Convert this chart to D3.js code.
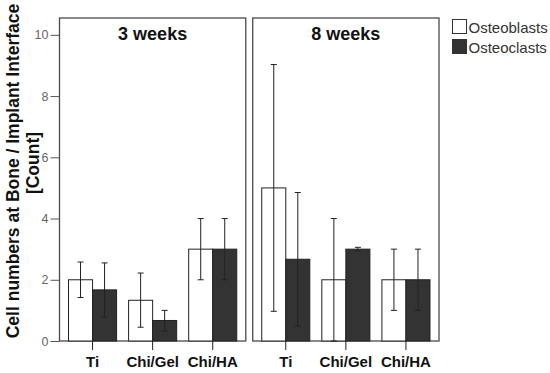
<!DOCTYPE html>
<html>
<head>
    <meta charset="utf-8">
    <title>Cell numbers at bone / implant interface</title>
    <script src="https://d3js.org/d3.v7.min.js"></script>
    <style>
        body { margin: 0; background: #fff; }
        text { font-family: "Liberation Sans", Arial, sans-serif; }
        .frame { fill: none; stroke: #4a4a4a; stroke-width: 1.3px; }
        .err { stroke: #222; stroke-width: 1px; }
    </style>
</head>
<body>
<script type="text/javascript">
    // data
    let panels = ["3 weeks", "8 weeks"];
    let categories = ["Ti", "Chi/Gel", "Chi/HA"];
    let series = ["Osteoblasts", "Osteoclasts"];
    let yTicks = [0, 2, 4, 6, 8, 10];

    // mean values, [panel][category]
    let osteoblasts = [[2.0, 1.33, 3.0], [5.0, 2.0, 2.0]];
    let osteoclasts = [[1.67, 0.67, 3.0], [2.67, 3.0, 2.0]];
    // error bar low / high
    let osteoblastsLow  = [[1.42, 0.45, 2.0], [0.97, 0.0, 1.0]];
    let osteoblastsHigh = [[2.58, 2.22, 4.0], [9.03, 4.0, 3.0]];
    let osteoclastsLow  = [[0.79, 0.33, 2.0], [0.49, 2.95, 1.0]];
    let osteoclastsHigh = [[2.55, 1.0, 4.0], [4.85, 3.06, 3.0]];

    let rows = [];
    panels.forEach((p, pi) => {
        categories.forEach((c, ci) => {
            rows.push({panel: p, cat: c, series: series[0], value: osteoblasts[pi][ci],
                       lo: osteoblastsLow[pi][ci], hi: osteoblastsHigh[pi][ci]});
            rows.push({panel: p, cat: c, series: series[1], value: osteoclasts[pi][ci],
                       lo: osteoclastsLow[pi][ci], hi: osteoclastsHigh[pi][ci]});
        });
    });

    let width = 550, height = 373;
    let svg = d3.select("body").append("svg")
        .attr("width", width)
        .attr("height", height);

    let y = d3.scaleLinear().domain([0, 10.55]).range([341, 18]);

    let xPanel = d3.scaleBand().domain(panels).range([59.5, 439]).paddingInner(0.036);
    let xCat = d3.scaleBand().domain(categories).range([0, xPanel.bandwidth()])
        .paddingInner(0.2).paddingOuter(0.15);
    let xSer = d3.scaleBand().domain(series).range([0, xCat.bandwidth()]);
    let colour = d3.scaleOrdinal().domain(series).range(["#ffffff", "#333333"]);

    // y axis
    let yAxis = svg.append("g")
        .attr("transform", "translate(59.5,0)")
        .call(d3.axisLeft(y).tickValues(yTicks).tickSize(9).tickPadding(2).tickFormat(d3.format("d")));
    yAxis.select(".domain").remove();
    yAxis.selectAll(".tick line").attr("stroke", "#555");
    yAxis.selectAll(".tick text").attr("fill", "#666").style("font-size", "12.5px");

    let g = svg.selectAll("g.panel")
        .data(panels)
        .join("g")
        .attr("class", "panel")
        .attr("transform", d => `translate(${xPanel(d)},0)`);

    g.append("rect")
        .attr("class", "frame")
        .attr("x", 0)
        .attr("y", y.range()[1])
        .attr("width", xPanel.bandwidth())
        .attr("height", y(0) - y.range()[1]);

    g.append("text")
        .attr("x", xPanel.bandwidth() / 2)
        .attr("y", 40)
        .attr("text-anchor", "middle")
        .style("font-size", "18px")
        .style("font-weight", "bold")
        .attr("fill", "#111")
        .text(d => d);

    // bars
    g.selectAll("rect.bar")
        .data(p => rows.filter(r => r.panel === p))
        .join("rect")
        .attr("class", "bar")
        .attr("x", d => xCat(d.cat) + xSer(d.series))
        .attr("y", d => y(d.value))
        .attr("width", xSer.bandwidth())
        .attr("height", d => y(0) - y(d.value))
        .attr("fill", d => colour(d.series))
        .attr("stroke", "#222")
        .attr("stroke-width", 1);

    // error bars
    let eb = g.selectAll("g.eb")
        .data(p => rows.filter(r => r.panel === p))
        .join("g")
        .attr("class", "eb")
        .attr("transform", d => `translate(${xCat(d.cat) + xSer(d.series) + xSer.bandwidth() / 2},0)`);
    eb.append("line").attr("class", "err")
        .attr("x1", 0).attr("x2", 0)
        .attr("y1", d => y(d.lo)).attr("y2", d => y(d.hi));
    eb.append("line").attr("class", "err")
        .attr("x1", -3).attr("x2", 3)
        .attr("y1", d => y(d.lo)).attr("y2", d => y(d.lo));
    eb.append("line").attr("class", "err")
        .attr("x1", -3).attr("x2", 3)
        .attr("y1", d => y(d.hi)).attr("y2", d => y(d.hi));

    // x axis per panel
    g.each(function () {
        let ax = d3.select(this).append("g")
            .attr("transform", `translate(0,${y(0)})`)
            .call(d3.axisBottom(xCat).tickSize(9).tickPadding(6));
        ax.select(".domain").remove();
        ax.selectAll(".tick line").attr("stroke", "#222");
        ax.selectAll(".tick text")
            .attr("fill", "#111")
            .style("font-size", "15px")
            .style("font-weight", "bold");
    });

    // y label
    let yl = svg.append("text")
        .attr("transform", "translate(18.5,171) rotate(-90)")
        .attr("text-anchor", "middle")
        .style("font-size", "17.5px")
        .style("font-weight", "bold")
        .attr("fill", "#111");
    yl.append("tspan").attr("x", 0).attr("y", 0).text("Cell numbers at Bone / Implant Interface");
    yl.append("tspan").attr("x", 8).attr("y", 20).text("[Count]");

    // legend
    let leg = svg.selectAll("g.legend")
        .data(series)
        .join("g")
        .attr("class", "legend")
        .attr("transform", (d, i) => `translate(452.5,${19.5 + i * 20})`);
    leg.append("rect")
        .attr("width", 14).attr("height", 14)
        .attr("fill", d => colour(d))
        .attr("stroke", "#333");
    leg.append("text")
        .attr("x", 16).attr("y", 13)
        .style("font-size", "15px")
        .attr("fill", "#333")
        .text(d => d);
</script>
</body>
</html>
